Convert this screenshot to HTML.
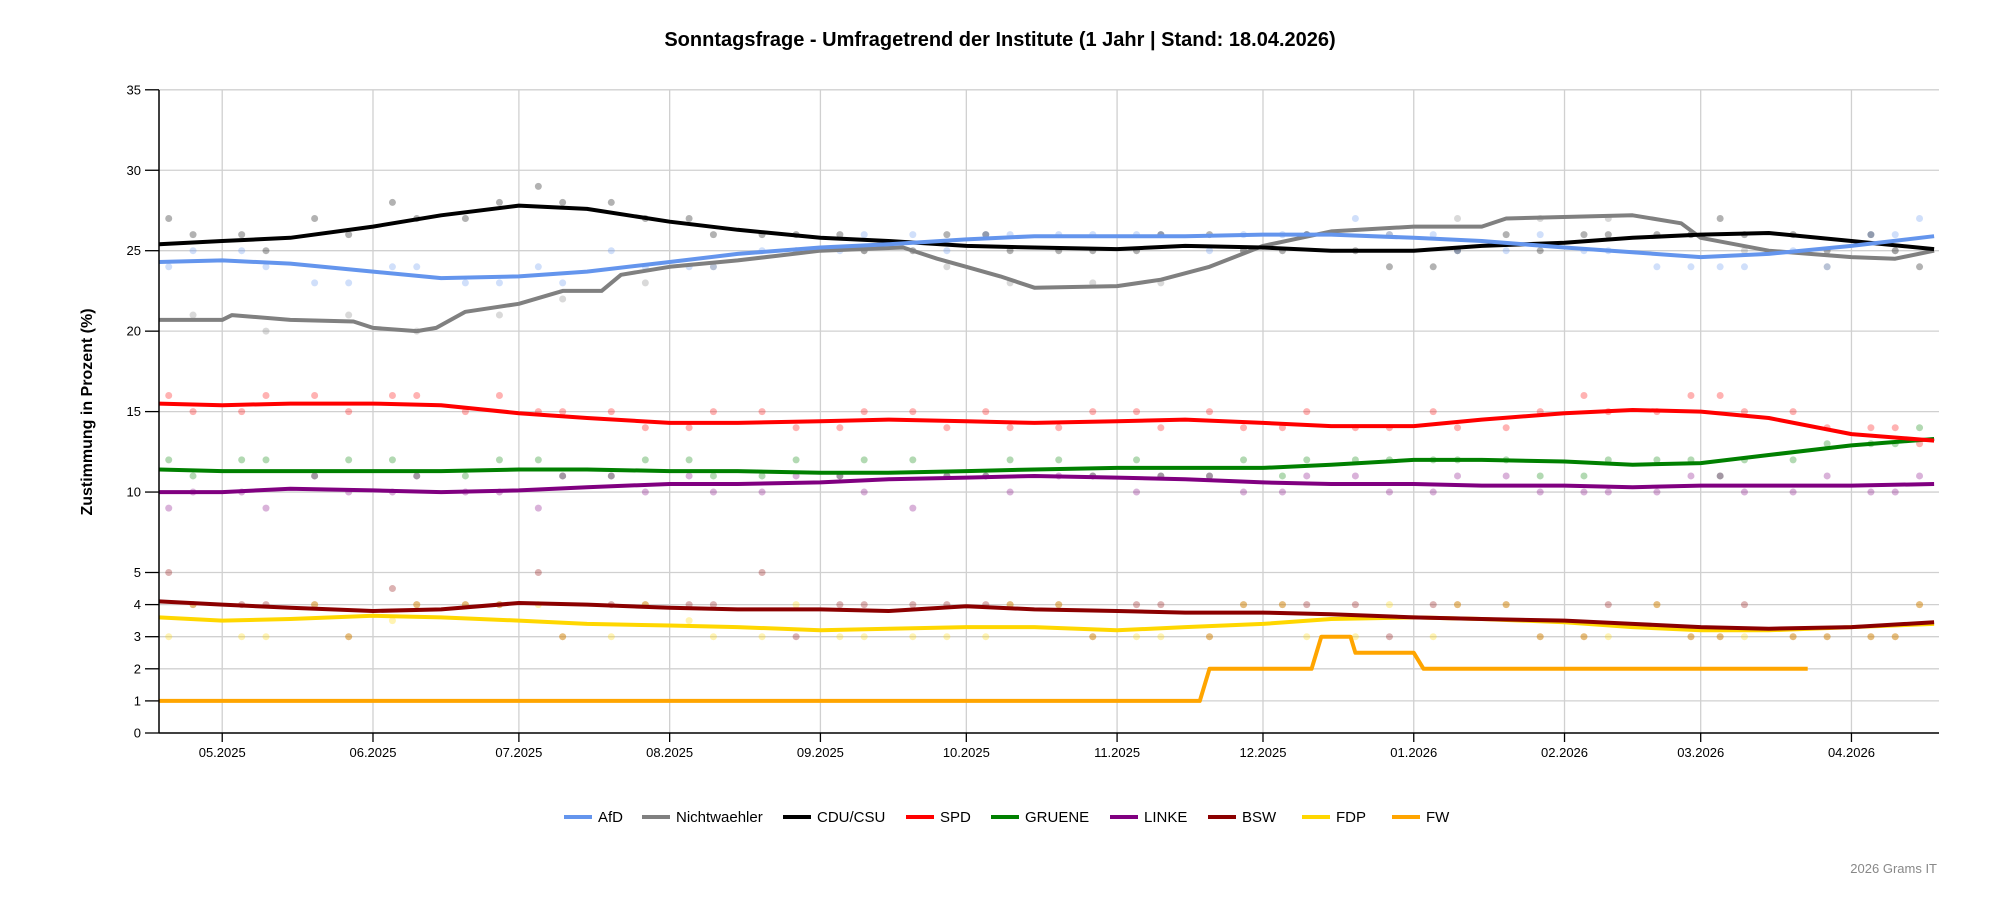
<!DOCTYPE html>
<html><head><meta charset="utf-8">
<style>
html,body{margin:0;padding:0;background:#fff;}
svg{display:block;font-family:"Liberation Sans",Arial,sans-serif;}
</style></head>
<body>
<svg id="chart" width="2000" height="900" viewBox="0 0 2000 900">
  <text x="1000" y="46" text-anchor="middle" font-size="20" font-weight="bold" fill="#000">Sonntagsfrage - Umfragetrend der Institute (1 Jahr | Stand: 18.04.2026)</text>
  <g id="grid"></g>
  <g id="dots"></g>
  <g id="lines"></g>
  <g id="axes"></g>
  <text transform="translate(92,412) rotate(-90)" text-anchor="middle" font-size="16" font-weight="bold">Zustimmung in Prozent (%)</text>
  <g id="legend"></g>
  <text x="1937" y="873" text-anchor="end" font-size="13" fill="#888">2026 Grams IT</text>
</svg>
<script>
const trendDates = ["2025-04-18","2025-05-01","2025-05-15","2025-06-01","2025-06-15","2025-07-01","2025-07-15","2025-08-01","2025-08-15","2025-09-01","2025-09-15","2025-10-01","2025-10-15","2025-11-01","2025-11-15","2025-12-01","2025-12-15","2026-01-01","2026-01-15","2026-02-01","2026-02-15","2026-03-01","2026-03-15","2026-04-01","2026-04-18"];
const afd    = [24.3,24.4,24.2,23.7,23.3,23.4,23.7,24.3,24.8,25.2,25.4,25.7,25.9,25.9,25.9,26.0,26.0,25.8,25.6,25.2,24.9,24.6,24.8,25.3,25.9];
const cdu    = [25.4,25.6,25.8,26.5,27.2,27.8,27.6,26.8,26.3,25.8,25.6,25.3,25.2,25.1,25.3,25.2,25.0,25.0,25.3,25.5,25.8,26.0,26.1,25.6,25.1];
const spd    = [15.5,15.4,15.5,15.5,15.4,14.9,14.6,14.3,14.3,14.4,14.5,14.4,14.3,14.4,14.5,14.3,14.1,14.1,14.5,14.9,15.1,15.0,14.6,13.6,13.2];
const gruene = [11.4,11.3,11.3,11.3,11.3,11.4,11.4,11.3,11.3,11.2,11.2,11.3,11.4,11.5,11.5,11.5,11.7,12.0,12.0,11.9,11.7,11.8,12.3,12.9,13.3];
const linke  = [10.0,10.0,10.2,10.1,10.0,10.1,10.3,10.5,10.5,10.6,10.8,10.9,11.0,10.9,10.8,10.6,10.5,10.5,10.4,10.4,10.3,10.4,10.4,10.4,10.5];
const bsw    = [4.1,4.0,3.9,3.8,3.85,4.05,4.0,3.9,3.85,3.85,3.8,3.95,3.85,3.8,3.75,3.75,3.7,3.6,3.55,3.5,3.4,3.3,3.25,3.3,3.45];
const fdp    = [3.6,3.5,3.55,3.65,3.6,3.5,3.4,3.35,3.3,3.2,3.25,3.3,3.3,3.2,3.3,3.4,3.55,3.6,3.55,3.45,3.3,3.2,3.2,3.3,3.4];
const nwDates = ["2025-04-18","2025-05-01","2025-05-03","2025-05-15","2025-05-28","2025-06-01","2025-06-10","2025-06-14","2025-06-20","2025-07-01","2025-07-10","2025-07-18","2025-07-22","2025-08-01","2025-08-15","2025-09-01","2025-09-18","2025-09-25","2025-10-01","2025-10-08","2025-10-15","2025-11-01","2025-11-10","2025-11-20","2025-12-01","2025-12-15","2026-01-01","2026-01-15","2026-01-20","2026-02-15","2026-02-25","2026-03-01","2026-03-15","2026-04-01","2026-04-10","2026-04-18"];
const nichtwaehler = [20.7,20.7,21.0,20.7,20.6,20.2,20.0,20.2,21.2,21.7,22.5,22.5,23.5,24.0,24.4,25.0,25.2,24.5,24.0,23.4,22.7,22.8,23.2,24.0,25.3,26.2,26.5,26.5,27.0,27.2,26.7,25.8,25.0,24.6,24.5,25.0];
const fwDates = ["2025-04-18","2025-11-18","2025-11-20","2025-12-11","2025-12-13","2025-12-19","2025-12-20","2026-01-01","2026-01-03","2026-03-23"];
const fw = [1,1,2,2,3,3,2.5,2.5,2,2];
const monthTicks = ["2025-05-01","2025-06-01","2025-07-01","2025-08-01","2025-09-01","2025-10-01","2025-11-01","2025-12-01","2026-01-01","2026-02-01","2026-03-01","2026-04-01"];
const monthLabels = ["05.2025","06.2025","07.2025","08.2025","09.2025","10.2025","11.2025","12.2025","01.2026","02.2026","03.2026","04.2026"];
const yTicks = [0,1,2,3,4,5,10,15,20,25,30,35];
const seriesNames = ["AfD","Nichtwaehler","CDU/CSU","SPD","GRUENE","LINKE","BSW","FDP","FW"];
const seriesColors = ["#6495ED","#808080","#000000","#FF0000","#008000","#800080","#8B0000","#FFD700","#FFA500"];
const dotDates = ["2025-04-20","2025-05-05","2025-05-20","2025-06-05","2025-06-20","2025-07-05","2025-07-20","2025-08-05","2025-08-20","2025-09-05","2025-09-20","2025-10-05","2025-10-20","2025-11-05","2025-11-20","2025-12-05","2025-12-20","2026-01-05","2026-01-20","2026-02-05","2026-02-20","2026-03-05","2026-03-20","2026-04-05","2026-04-15"];
const dotAfd = [24,25,23,24,23,24,25,24,25,25,26,26,26,26,25,26,27,26,25,25,24,24,25,26,27];
const dotCdu = [27,26,27,28,27,29,28,27,26,26,25,26,25,25,26,25,25,24,26,26,26,27,26,26,24];
const dotSpd = [16,15,16,16,15,15,15,14,15,14,15,15,14,15,15,14,14,15,14,16,15,16,15,14,13];
const dotGruene = [12,12,11,12,11,12,11,12,11,11,12,11,12,12,11,11,12,12,12,11,12,11,12,13,14];
const dotLinke = [9,10,11,10,10,9,11,11,10,11,9,11,11,10,11,10,11,10,11,10,10,11,10,10,11];
const dotBsw = [5,4,4,4.5,4,5,4,4,5,4,4,4,4,4,3,4,4,4,4,3,4,3,3,3,4];
const dotFdp = [3,3,4,3.5,4,4,3,3.5,3,3,3,3,4,3,3,4,3,3,4,3,4,3,3,3,4];
const dotDates2 = ["2025-04-25","2025-05-10","2025-05-27","2025-06-10","2025-06-27","2025-07-10","2025-07-27","2025-08-10","2025-08-27","2025-09-10","2025-09-27","2025-10-10","2025-10-27","2025-11-10","2025-11-27","2025-12-10","2025-12-27","2026-01-10","2026-01-27","2026-02-10","2026-02-27","2026-03-10","2026-03-27","2026-04-10"];
const dotAfd2 = [25,24,23,24,23,23,24,24,25,26,25,26,26,26,26,26,26,25,26,25,24,24,24,26];
const dotCdu2 = [26,25,26,27,28,28,27,26,26,25,26,25,25,26,25,26,24,25,25,26,26,26,25,25];
const dotNw2 = [21,20,21,20,21,22,23,24,25,25,24,23,23,23,25,26,26,27,27,27,26,25,24,25];
const dotSpd2 = [15,16,15,16,16,15,14,15,14,15,14,14,15,14,14,15,14,14,15,15,16,15,14,14];
const dotGruene2 = [11,12,12,11,12,11,12,11,12,12,11,12,11,11,12,12,12,12,11,12,12,12,13,13];
const dotLinke2 = [10,9,10,11,10,11,10,10,11,10,11,10,11,11,10,11,10,11,10,10,11,10,11,10];
const dotBsw2 = [4,4,3,4,4,3,4,4,3,4,4,4,3,4,4,4,3,4,3,4,3,4,3,3];
const dotFdp2 = [4,3,3,4,4,3,4,3,4,3,3,4,3,3,4,3,4,4,3,3,3,3,3,3];

const X0 = 159, X1 = 1939, Y0 = 733;
const D0 = Date.parse("2025-04-18"), D1 = Date.parse("2026-04-19");
function xScale(d){ return X0 + (Date.parse(d)-D0)/(D1-D0)*(X1-X0); }
function yScale(v){ return v <= 5 ? Y0 - v*32.1 : 572.5 - (v-5)*16.09; }
const NS = "http://www.w3.org/2000/svg";
function mk(tag, attrs, parent){ const e=document.createElementNS(NS,tag); for(const k in attrs) e.setAttribute(k,attrs[k]); parent.appendChild(e); return e; }

const grid = document.getElementById('grid'), axes = document.getElementById('axes');
yTicks.forEach(v=>{
  const y = yScale(v);
  if (v>0) {
    const g = mk('line',{x1:X0,x2:X1,y1:y,y2:y,stroke:'#d0d0d0','stroke-width':1.3},grid);
     
  }
  const t = mk('line',{x1:X0-14,x2:X0,y1:y,y2:y,stroke:'#000','stroke-width':1.3},axes);
   
  const lb = mk('text',{x:X0-18,y:y+4.5,'text-anchor':'end','font-size':13},axes);
  lb.textContent = v;
   
});
monthTicks.forEach((d,i)=>{
  const x = xScale(d);
  const g = mk('line',{x1:x,x2:x,y1:90,y2:Y0,stroke:'#d0d0d0','stroke-width':1.3},grid);
   
  const t = mk('line',{x1:x,x2:x,y1:Y0,y2:Y0+9,stroke:'#000','stroke-width':1.3},axes);
   
  const lb = mk('text',{x:x,y:Y0+24,'text-anchor':'middle','font-size':13},axes);
  lb.textContent = monthLabels[i];
   
});
const ya = mk('line',{x1:X0,x2:X0,y1:90,y2:Y0,stroke:'#000','stroke-width':1.5},axes);
 
const xa = mk('line',{x1:X0,x2:X1,y1:Y0,y2:Y0,stroke:'#000','stroke-width':1.5},axes);
 

const dots = document.getElementById('dots');
const dotSets = [[dotDates,dotAfd,0],[dotDates,dotCdu,2],[dotDates,dotSpd,3],[dotDates,dotGruene,4],[dotDates,dotLinke,5],[dotDates,dotBsw,6],[dotDates,dotFdp,7],
  [dotDates2,dotAfd2,0],[dotDates2,dotCdu2,2],[dotDates2,dotNw2,1],[dotDates2,dotSpd2,3],[dotDates2,dotGruene2,4],[dotDates2,dotLinke2,5],[dotDates2,dotBsw2,6],[dotDates2,dotFdp2,7]];
dotSets.forEach(([dates,vals,ci])=>{
  vals.forEach((v,i)=>{
    const c = mk('circle',{cx:xScale(dates[i]),cy:yScale(v),r:3.5,fill:seriesColors[ci],'fill-opacity':0.3},dots);
     
  });
});

const lines = document.getElementById('lines');
function drawLine(dates, vals, ci, name){
  const p = mk('polyline',{points:vals.map((v,i)=>xScale(dates[i]).toFixed(1)+','+yScale(v).toFixed(1)).join(' '),fill:'none',stroke:seriesColors[ci],'stroke-width':4,'stroke-linejoin':'round'},lines);
  
  
}
drawLine(fwDates, fw, 8, 'fw-trend-line');
drawLine(trendDates, fdp, 7, 'fdp-trend-line');
drawLine(trendDates, bsw, 6, 'bsw-trend-line');
drawLine(trendDates, linke, 5, 'linke-trend-line');
drawLine(trendDates, gruene, 4, 'gruene-trend-line');
drawLine(trendDates, spd, 3, 'spd-trend-line');
drawLine(nwDates, nichtwaehler, 1, 'nichtwaehler-trend-line');
drawLine(trendDates, cdu, 2, 'cdu-trend-line');
drawLine(trendDates, afd, 0, 'afd-trend-line');

const legend = document.getElementById('legend');
const legendX = [564,642,783,906,991,1110,1208,1302,1392];
seriesNames.forEach((n,i)=>{
  const g = mk('g',{},legend);
   
  mk('line',{x1:legendX[i],x2:legendX[i]+28,y1:817,y2:817,stroke:seriesColors[i],'stroke-width':4},g);
  const t = mk('text',{x:legendX[i]+34,y:822,'font-size':15},g);
  t.textContent = n;
});
</script>
</body></html>
